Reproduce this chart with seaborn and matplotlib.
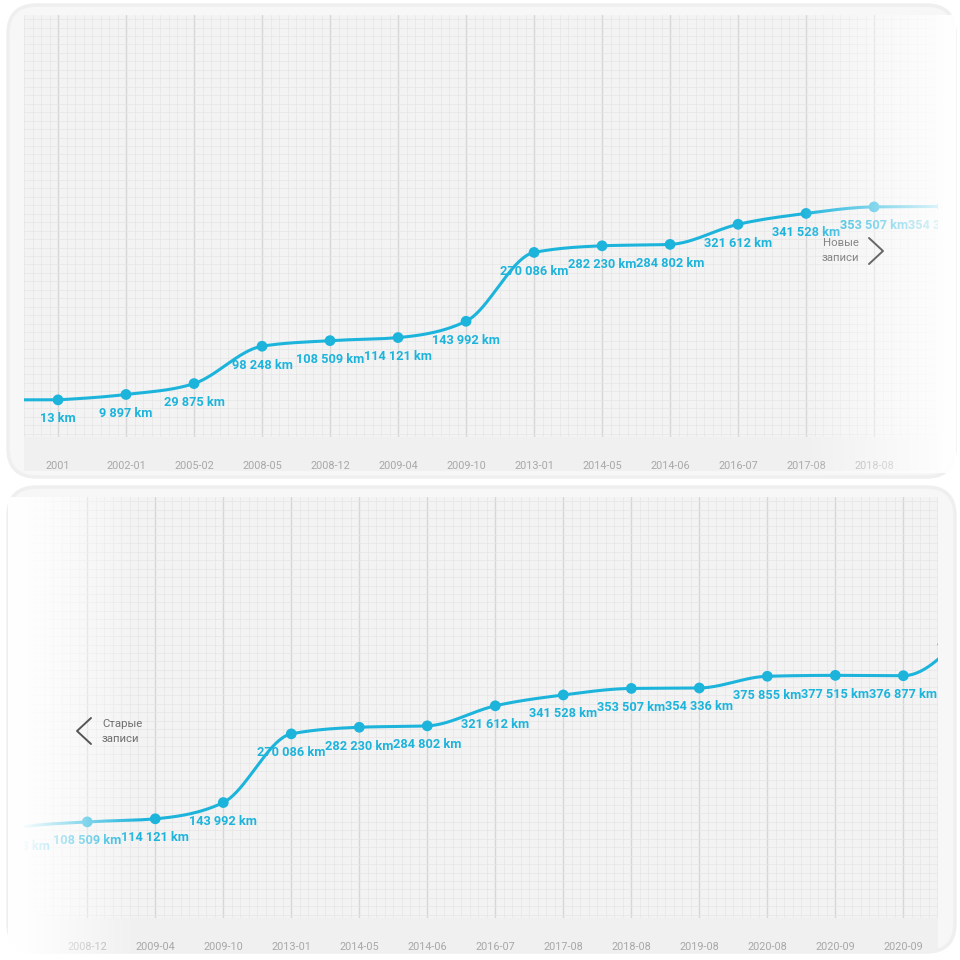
import numpy as np
import pandas as pd
import seaborn as sns
import matplotlib.pyplot as plt
import matplotlib.transforms as mtransforms
from matplotlib.patches import FancyBboxPatch, Rectangle
from matplotlib.lines import Line2D
from matplotlib.ticker import MultipleLocator

# odometer readings (the last point is only partly visible at the right edge)
dates = ['2001', '2002-01', '2005-02', '2008-05', '2008-12', '2009-04', '2009-10',
         '2013-01', '2014-05', '2014-06', '2016-07', '2017-08', '2018-08', '2019-08',
         '2020-08', '2020-09', '2020-09', '2021-04']
km = [13, 9897, 29875, 98248, 108509, 114121, 143992, 270086, 282230, 284802,
      321612, 341528, 353507, 354336, 375855, 377515, 376877, 470000]

LINE = '#1db4dc'
W = 960.0


def fx(x):
    return x / W


def fy(y):
    return 1 - y / W


def monotone(y, steps=40):
    # same idea as d3.curveMonotoneX
    y = np.asarray(y, float)
    n = len(y)
    d = np.diff(y)
    m = np.zeros(n)
    for i in range(1, n - 1):
        s0, s1 = d[i - 1], d[i]
        p = (s0 + s1) / 2
        m[i] = (np.sign(s0) + np.sign(s1)) * min(abs(s0), abs(s1), 0.5 * abs(p))
    m[0] = (3 * d[0] - m[1]) / 2
    m[-1] = (3 * d[-1] - m[-2]) / 2
    xs, ys = [-1.0, 0.0], [y[0], y[0]]
    t = np.linspace(0, 1, steps, endpoint=False)[1:]
    h00 = 2 * t**3 - 3 * t**2 + 1
    h10 = t**3 - 2 * t**2 + t
    h01 = -2 * t**3 + 3 * t**2
    h11 = t**3 - t**2
    for i in range(n - 1):
        xs.extend(i + t)
        ys.extend(h00 * y[i] + h10 * m[i] + h01 * y[i + 1] + h11 * m[i + 1])
        xs.append(i + 1)
        ys.append(y[i + 1])
    return pd.DataFrame({'x': xs, 'km': ys})


df = pd.DataFrame({'x': np.arange(len(km)), 'km': km, 'date': dates})
curve = monotone(km)

sns.set_theme(style='white')
plt.rcParams['font.family'] = ['Roboto', 'DejaVu Sans']

fig = plt.figure(figsize=(9.6, 9.6), dpi=100)
fig.patch.set_facecolor('white')

panels = [
    # card box (px), axes box (px), xlim
    ((8, 5, 955, 477), (24, 15, 938, 437), (-0.5, 12.94)),
    ((8, 487, 955, 952), (24, 497, 938, 918), (3.07, 16.51)),
]

for card, box, xlim in panels:
    fig.add_artist(FancyBboxPatch((fx(card[0]), fy(card[3])), fx(card[2] - card[0]),
                                  (card[3] - card[1]) / W,
                                  boxstyle='round,pad=0,rounding_size=0.03',
                                  transform=fig.transFigure, fc='#f7f7f7', ec='#efefef',
                                  lw=2.5, zorder=-10))
    fig.add_artist(Rectangle((fx(box[0]), fy(box[3] + 34)), fx(box[2] - box[0]), 34 / W,
                             transform=fig.transFigure, fc='#f0f0f0', ec='none', zorder=-5))

    ax = fig.add_axes([fx(box[0]), fy(box[3]), fx(box[2] - box[0]), (box[3] - box[1]) / W])
    ax.set_facecolor('#f3f3f3')

    sns.lineplot(data=curve, x='x', y='km', ax=ax, color=LINE, lw=2.2,
                 sort=False, estimator=None, zorder=3)
    sns.scatterplot(data=df, x='x', y='km', ax=ax, color=LINE, s=60,
                    edgecolor='none', zorder=4, clip_on=True)

    below = mtransforms.offset_copy(ax.transData, fig=fig, x=0, y=-19, units='dots')
    for i, v in enumerate(km):
        ax.text(i, v, f'{v:,} km'.replace(',', ' '), transform=below, ha='center',
                va='center', color=LINE, fontsize=9.2, fontweight='bold',
                clip_on=True, zorder=5)

    ax.set_xticks(range(len(dates)))
    ax.set_xticklabels(dates)
    ax.set_yticks([])
    ax.set_xlim(*xlim)
    ax.set_ylim(-68000, 705000)
    ax.xaxis.set_minor_locator(MultipleLocator(0.125))
    ax.yaxis.set_minor_locator(MultipleLocator(15500))
    ax.grid(which='major', axis='x', color='#d6d6d6', lw=1.0)
    ax.grid(which='minor', color='#e5e5e5', lw=0.5)
    ax.set_axisbelow(True)
    ax.tick_params(axis='x', which='both', length=0, pad=17, labelsize=7.8,
                   labelcolor='#a8a8a8')
    ax.set_xlabel('')
    ax.set_ylabel('')
    for s in ax.spines.values():
        s.set_visible(False)


def fade(x0, x1, y0, y1, a0, a1):
    cols = 200
    img = np.ones((2, cols, 4))
    img[..., 3] = np.linspace(a0, a1, cols)
    fax = fig.add_axes([fx(x0), fy(y1), fx(x1 - x0), (y1 - y0) / W], zorder=10)
    fax.imshow(img, aspect='auto', extent=(0, 1, 0, 1))
    fax.set_axis_off()


# white fades at the scroll edges
fade(800, 938, 15, 473, 0.0, 0.85)
fade(938, 956, 15, 473, 0.85, 0.95)
fade(8, 24, 497, 954, 0.97, 0.97)
fade(24, 140, 497, 954, 0.97, 0.0)

# navigation buttons
fig.text(fx(823), fy(243), 'Новые', ha='left', va='center', fontsize=8.2,
         color='#858585', zorder=20)
fig.text(fx(822), fy(258), 'записи', ha='left', va='center', fontsize=8.2,
         color='#858585', zorder=20)
fig.add_artist(Line2D([fx(869), fx(883), fx(869)], [fy(238), fy(251), fy(264)],
                      transform=fig.transFigure, color='#666666', lw=1.4, zorder=20))

fig.text(fx(102), fy(724), 'Старые', ha='left', va='center', fontsize=8.2,
         color='#6f6f6f', zorder=20)
fig.text(fx(102), fy(739), 'записи', ha='left', va='center', fontsize=8.2,
         color='#6f6f6f', zorder=20)
fig.add_artist(Line2D([fx(91), fx(77), fx(91)], [fy(718), fy(731), fy(744)],
                      transform=fig.transFigure, color='#555555', lw=1.4, zorder=20))

fig.savefig('out.png', dpi=100, facecolor='white')
